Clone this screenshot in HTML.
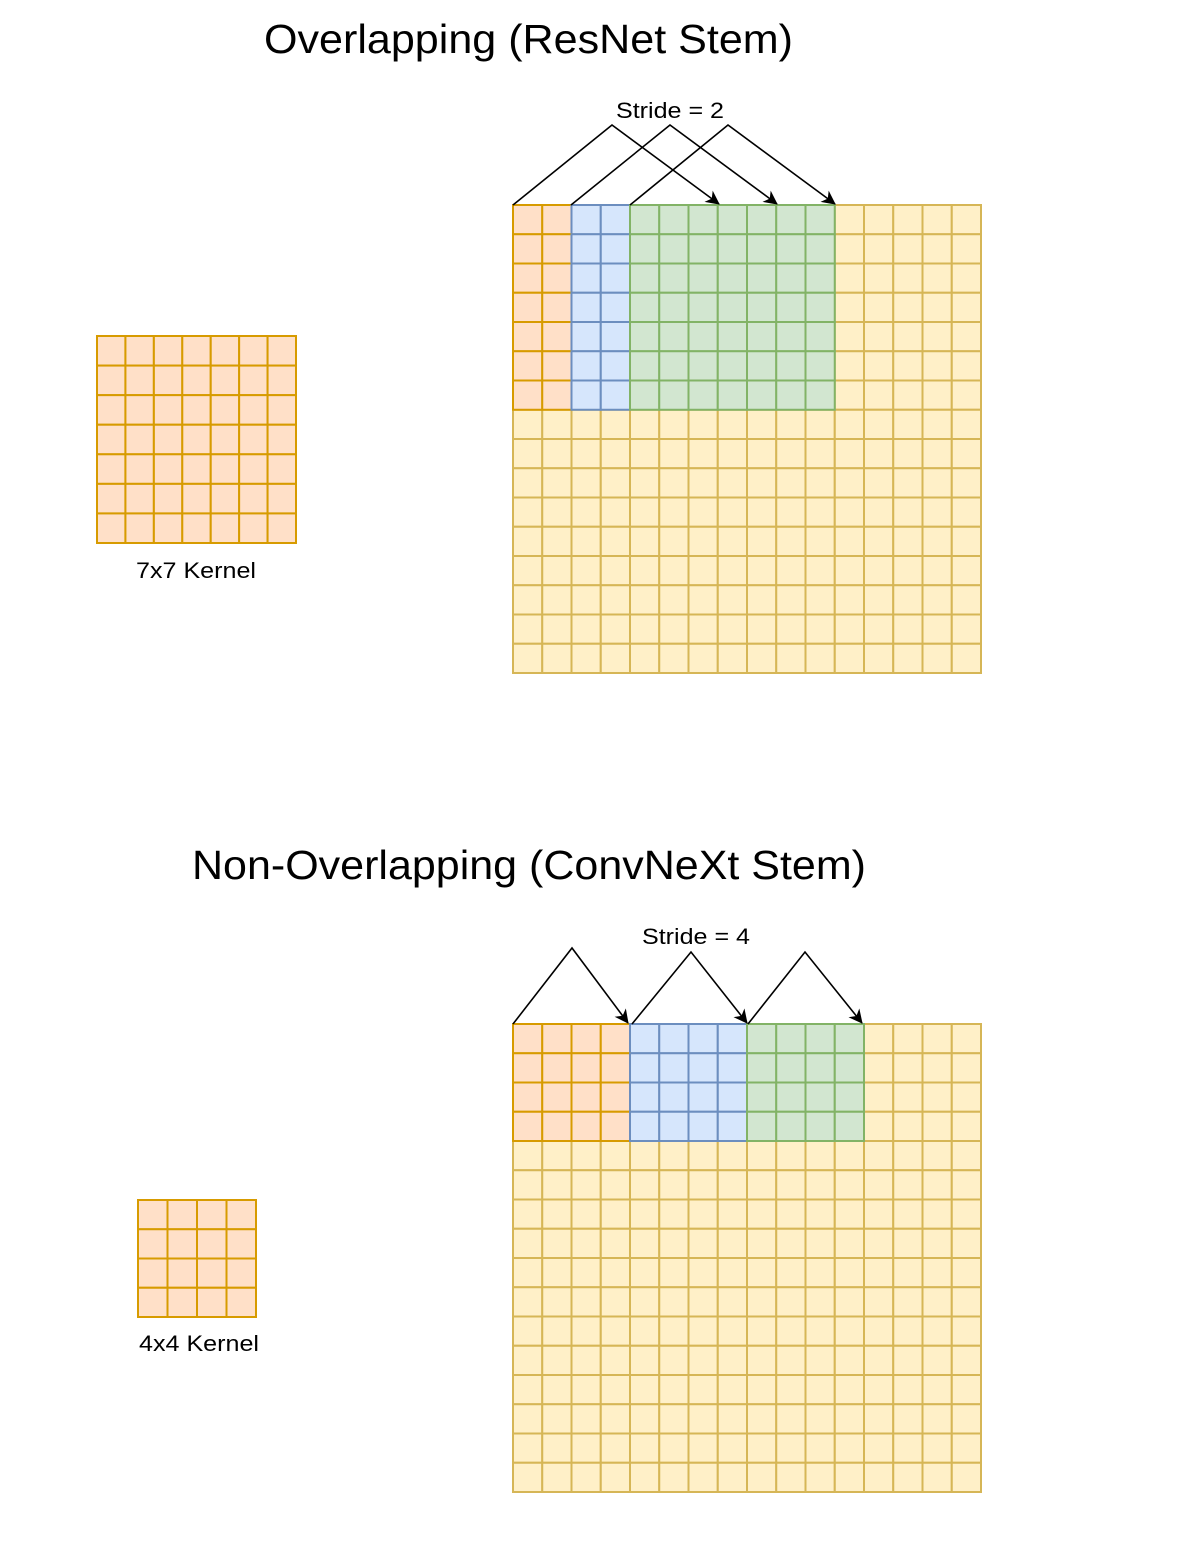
<!DOCTYPE html>
<html><head><meta charset="utf-8"><style>
body{margin:0;background:#fff;width:1192px;height:1560px;overflow:hidden}
svg{display:block}
text{font-family:"Liberation Sans",sans-serif;fill:#000}
</style></head><body>
<svg id="s" width="1192" height="1560">
<defs><marker id="ah" markerWidth="14" markerHeight="14" refX="13" refY="7" orient="auto" markerUnits="userSpaceOnUse"><path d="M0,0 L14,7 L0,14 L4,7 Z" fill="#000"/></marker></defs>
<text x="264" y="53" font-size="41" textLength="529" lengthAdjust="spacingAndGlyphs">Overlapping (ResNet Stem)</text>
<text x="192" y="879" font-size="41" textLength="674" lengthAdjust="spacingAndGlyphs">Non-Overlapping (ConvNeXt Stem)</text>
<text x="616" y="118" font-size="22" textLength="108" lengthAdjust="spacingAndGlyphs">Stride = 2</text>
<text x="642" y="944" font-size="22" textLength="108" lengthAdjust="spacingAndGlyphs">Stride = 4</text>
<text x="136" y="578" font-size="22" textLength="120" lengthAdjust="spacingAndGlyphs">7x7 Kernel</text>
<text x="139" y="1351" font-size="22" textLength="120" lengthAdjust="spacingAndGlyphs">4x4 Kernel</text>
<g id="g"></g>
</svg>
<script>
const C={o:["#ffe0c8","#d79b00"],b:["#d6e6fc","#6c8ebf"],g:["#d2e6d0","#82b366"],y:["#fff0c8","#d6b656"]};
const g=document.getElementById('g');
function cell(x,y,w,h,c){const r=document.createElementNS('http://www.w3.org/2000/svg','rect');
r.setAttribute('x',x);r.setAttribute('y',y);r.setAttribute('width',w);r.setAttribute('height',h);
r.setAttribute('fill',C[c][0]);r.setAttribute('stroke',C[c][1]);r.setAttribute('stroke-width',2);


g.appendChild(r);}
function grid(x0,y0,w,h,n,m,fn){const cw=w/m,ch=h/n;const order=[];
for(let i=0;i<n;i++)for(let j=0;j<m;j++)order.push([i,j,fn(i,j)]);
order.sort((a,b)=>(a[2]==='y'?0:1)-(b[2]==='y'?0:1));
order.forEach(([i,j,c])=>cell(x0+j*cw,y0+i*ch,cw,ch,c));}
grid(97,336,199,207,7,7,()=> 'o');
grid(138,1200,118,117,4,4,()=> 'o');
grid(513,205,468,468,16,16,(i,j)=>i<7?(j<2?'o':j<4?'b':j<11?'g':'y'):'y');
grid(513,1024,468,468,16,16,(i,j)=>i<4?(j<4?'o':j<8?'b':j<12?'g':'y'):'y');
function arr(a,p,b){const l=document.createElementNS('http://www.w3.org/2000/svg','polyline');
l.setAttribute('points',a+' '+p+' '+b);l.setAttribute('fill','none');l.setAttribute('stroke','#000');
l.setAttribute('stroke-width',1.6);l.setAttribute('marker-end','url(#ah)');


document.getElementById('s').appendChild(l);}
arr('513,205','612,125','719,204');arr('571,205','670,125','777,204');arr('630,205','728,125','835,204');
arr('513,1024','572,948','628,1023');arr('632,1024','691,952','747,1023');arr('748,1024','805,952','862,1023');
</script>
</body></html>
